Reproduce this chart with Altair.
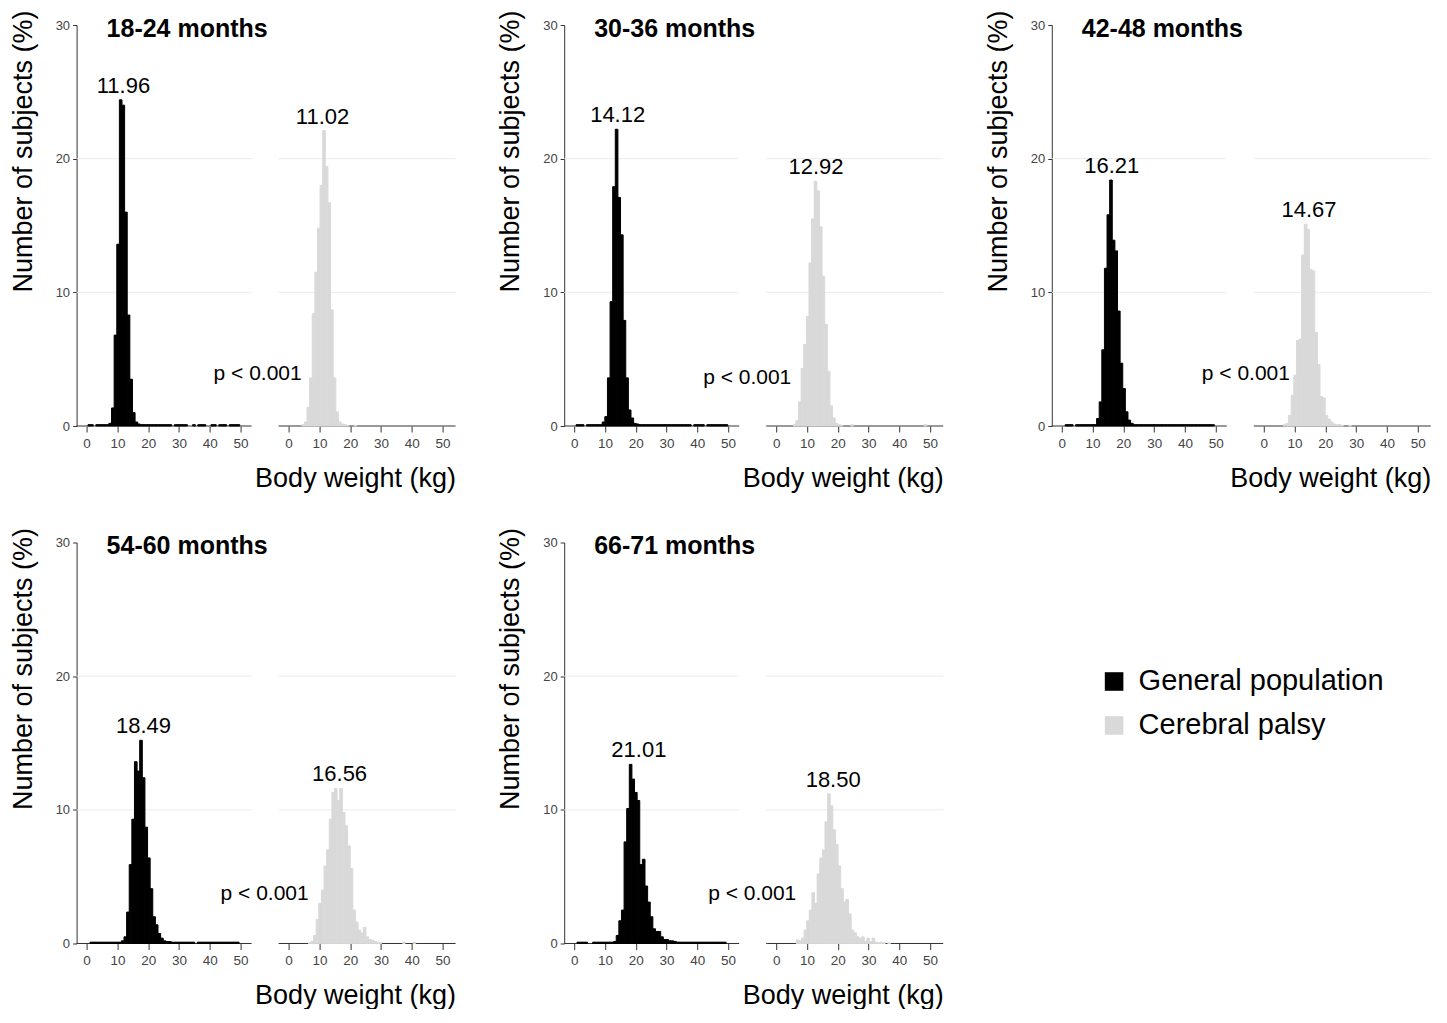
import altair as alt
import pandas as pd

FONT = "Liberation Sans"

AGES = ["18-24 months", "30-36 months", "42-48 months", "54-60 months", "66-71 months"]
GROUPS = ["General population", "Cerebral palsy"]
COLORS = ["#000000", "#d9d9d9"]
P_VALUES = ["p < 0.001", "p < 0.001", "p < 0.001", "p < 0.001", "p < 0.001"]

GP_MEAN = [11.96, 14.12, 16.21, 18.49, 21.01]
CP_MEAN = [11.02, 12.92, 14.67, 16.56, 18.50]

# histogram bin width (kg) and the left edge of the first bin of each histogram
BIN_WIDTH = 0.85
GP_OFFSET = [0.45, 0.60, 0.25, 0.25, 0.05]
CP_OFFSET = [0.03, 0.45, 0.40, 0.46, 0.55]

# percentage of subjects per bin
GP_18_24 = [0.1, 0.1, 0, 0.1, 0.1, 0.1, 0.1, 0.1, 0.2,
            1.35, 6.8, 13.6, 24.4, 24.0, 16.0, 8.3, 3.5, 1.0, 0.3, 0.15,
            0.1, 0.1, 0.1, 0.1, 0.1, 0.1, 0.1, 0.1, 0.1, 0.1, 0.1, 0.1, 0, 0.1, 0.1, 0.1, 0.1, 0.1, 0, 0,
            0.1, 0, 0.1, 0.1, 0.1, 0, 0, 0.1, 0.1, 0, 0.1, 0.1, 0.1, 0, 0.1, 0.1, 0.1, 0.1, 0]
CP_18_24 = [0, 0, 0, 0, 0, 0.1,
            0.3, 1.4, 3.6, 8.4, 11.5, 14.8, 18.0, 22.1, 19.4, 16.7, 8.7, 3.6, 1.05, 0.3,
            0.15, 0.1, 0.05, 0, 0, 0.05]
GP_30_36 = [0.1, 0.1, 0.1, 0, 0.1, 0.1, 0.1, 0.1, 0.1, 0.1, 0.3,
            0.7, 3.6, 9.3, 17.9, 22.2, 17.1, 14.3, 7.9, 3.6, 1.2, 0.6, 0.2,
            0.15, 0.1, 0.1, 0.1, 0.1, 0.1, 0.1, 0.1, 0.1, 0.1, 0.1, 0.1, 0.1, 0.1, 0.1, 0.1, 0.1, 0.1,
            0.1, 0.1, 0.1, 0, 0.1, 0.1, 0.1, 0.1, 0, 0.1, 0.1, 0.1, 0.1, 0.1, 0.1, 0.1, 0.1, 0]
CP_30_36 = [0, 0, 0, 0, 0, 0, 0.1,
            0.4, 1.8, 4.3, 6.1, 8.2, 12.2, 15.5, 18.3, 17.6, 14.9, 11.2, 7.6, 4.1, 1.5, 0.6, 0.2,
            0.1, 0.05, 0, 0, 0, 0.1, 0, 0, 0, 0, 0, 0, 0, 0, 0, 0, 0, 0, 0, 0, 0, 0, 0, 0, 0, 0,
            0, 0, 0, 0, 0, 0, 0, 0.1]
GP_42_48 = [0, 0.1, 0.1, 0.1, 0, 0.1, 0.1, 0.1, 0.1, 0.1, 0.1, 0.1, 0.1,
            0.56, 1.8, 5.7, 11.8, 15.8, 18.4, 13.9, 13.1, 8.6, 4.7, 2.8, 1.06, 0.44, 0.2,
            0.1, 0.1, 0.1, 0.1, 0.1, 0.1, 0.1, 0.1, 0.1, 0.1, 0.1, 0.1, 0.1, 0.1, 0.1, 0.1,
            0.1, 0.1, 0.1, 0.1, 0.1, 0.1, 0.1, 0.1, 0.1, 0.1, 0.1, 0.1, 0.1, 0.1, 0.1, 0]
CP_42_48 = [0, 0, 0, 0, 0, 0, 0, 0.1,
            0.2, 0.8, 2.3, 3.8, 6.4, 6.5, 12.8, 15.1, 14.7, 11.7, 11.6, 7.0, 4.6, 2.2, 2.1, 0.8,
            0.5, 0.3, 0.15, 0.1, 0.1,
            0.05, 0, 0, 0.05]
GP_54_60 = [0, 0.1, 0.1, 0.1, 0.1, 0.1, 0.1, 0.1, 0.1, 0.1, 0.1, 0.1, 0.1, 0.2,
            0.5, 2.35, 5.9, 9.3, 13.6, 12.9, 15.2, 12.4, 8.7, 6.4, 4.1, 2.0, 1.4, 0.75, 0.4, 0.2,
            0.15, 0.15, 0.1,
            0.1, 0.1, 0.1, 0.1, 0.1, 0.1, 0.1, 0.1, 0, 0.1, 0.1, 0.1, 0.1, 0.1, 0.1, 0.1,
            0.1, 0.1, 0.1, 0.1, 0.1, 0.1, 0.1, 0.1, 0.1, 0]
CP_54_60 = [0, 0, 0, 0, 0, 0, 0, 0.05,
            0.15, 0.6, 1.8, 3.0, 4.0, 5.8, 7.0, 9.3, 11.3, 11.6, 10.7, 11.6, 9.8, 8.8, 7.3, 5.6,
            2.5, 1.6, 1.0, 0.8, 1.2, 0.5, 0.3, 0.25, 0.15, 0.1,
            0.05, 0, 0, 0, 0, 0, 0, 0, 0, 0.1, 0, 0, 0, 0.1]
GP_66_71 = [0, 0.1, 0.1, 0.1, 0.1, 0, 0, 0.1, 0.1, 0.1, 0.1, 0.1, 0.1, 0.1, 0.1,
            0.15, 0.6, 1.7, 2.5, 7.6, 10.1, 13.4, 12.3, 11.3, 10.7, 5.9, 6.3, 4.3, 3.1, 2.0,
            1.1, 0.9, 0.9, 0.5, 0.3, 0.3, 0.2, 0.2, 0.15, 0.1,
            0.1, 0.1, 0.1, 0.1, 0.1, 0.1, 0.1, 0.1, 0.1, 0.1, 0.1, 0.1, 0.1, 0.1, 0.1, 0.1,
            0.1, 0.1, 0]
CP_66_71 = [0, 0, 0, 0, 0, 0, 0,
            0.27, 0.2, 0.4, 1.0, 1.7, 2.5, 3.8, 3.0, 5.2, 6.4, 7.0, 9.1, 11.2, 10.3, 8.5, 7.4,
            5.8, 4.1, 3.1, 3.3, 2.2, 1.0, 0.8, 0.5, 0.4, 0.5, 0.15, 0.4, 0.15, 0.4,
            0.1, 0.05, 0.1, 0.05, 0, 0.05]

GP_HIST = [GP_18_24, GP_30_36, GP_42_48, GP_54_60, GP_66_71]
CP_HIST = [CP_18_24, CP_30_36, CP_42_48, CP_54_60, CP_66_71]

KG_TICKS = [0, 10, 20, 30, 40, 50]
GRID_Y = [10, 20]

# ---------------------------------------------------------------- layout constants
# each panel is one view: the general-population histogram on the left and the
# cerebral-palsy histogram on the right, shifted along the x scale by SHIFT kg
W, H = 379, 401
XDOM = [-3.25, 119.88]
SHIFT = 65.63
LEFT_END = 53.6                      # end of the left sub-plot (kg)
P_POS = [(137, 354), (139, 358), (150, 354), (144, 357), (144, 357)]   # px in a 407-px plot
PANEL_PITCH = 488
Y_EXT = 69.4
ROW_GAP = 117

# ---------------------------------------------------------------- tables
bar_rows, mean_rows = [], []
for i, age in enumerate(AGES):
    for g, (offs, hists, mvals) in enumerate(((GP_OFFSET, GP_HIST, GP_MEAN),
                                              (CP_OFFSET, CP_HIST, CP_MEAN))):
        sh = SHIFT * g
        vals = hists[i]
        for k, v in enumerate(vals):
            if v > 0:
                s = offs[i] + BIN_WIDTH * k
                bar_rows.append({"age": age, "group": GROUPS[g], "x0": s + sh,
                                 "x1": s + BIN_WIDTH + sh, "pct": v, "base": 0})
        mean_rows.append({"age": age, "group": GROUPS[g], "xm": mvals[i] + sh,
                          "peak": max(vals), "label": f"{mvals[i]:.2f}"})
bars = pd.DataFrame(bar_rows)
means = pd.DataFrame(mean_rows)

segments = pd.DataFrame([{"x0": XDOM[0], "x1": LEFT_END}, {"x0": XDOM[0] + SHIFT, "x1": XDOM[1]}])
grid = pd.DataFrame([{"x0": s["x0"], "x1": s["x1"], "y": y}
                     for s in segments.to_dict("records") for y in GRID_Y])
base = segments.assign(y=0)

# ---------------------------------------------------------------- axes / scales
XS = alt.Scale(domain=XDOM, nice=False, zero=False)
YS = alt.Scale(domain=[0, 30], nice=False)
tick_vals = KG_TICKS + [t + SHIFT for t in KG_TICKS]
XA = alt.Axis(values=tick_vals, domain=False, grid=False, tickSize=6, labelPadding=4,
              labelFontSize=13.5, labelColor="#444444", tickColor="#333333",
              labelFont=FONT, labelOverlap=False, labelFlush=False,
              labelExpr=f"format(datum.value > {SHIFT - 5} ? datum.value - {SHIFT} : datum.value, 'd')",
              title="Body weight (kg)", titleAnchor="end", titleFontSize=27,
              titlePadding=16, titleFont=FONT, titleColor="#000000", titleFontWeight="normal")
YA = alt.Axis(values=[0, 10, 20, 30], title="Number of subjects (%)",
              titleFontSize=27, titleFontWeight="normal", titleFont=FONT,
              titleColor="#000000", titlePadding=18, titleAnchor="end",
              titleAlign="right", titleY=-15,
              labelFontSize=13, labelColor="#444444", labelFont=FONT,
              tickSize=4, labelPadding=3, tickColor="#333333",
              domainColor="#333333", grid=False)

legend = alt.Legend(orient="none", legendX=1023, legendY=642, title=None,
                    symbolType="square", symbolSize=345, symbolStrokeWidth=0,
                    labelFontSize=29, labelFont=FONT, labelColor="#000000",
                    labelLimit=600, rowPadding=14, labelOffset=10)
gscale = alt.Scale(domain=GROUPS, range=COLORS)


def panel(i):
    age = AGES[i]
    gl = alt.Chart(grid).mark_rule(color="#ebebeb", strokeWidth=1).encode(
        x=alt.X("x0:Q", scale=XS, axis=XA), x2="x1:Q", y=alt.Y("y:Q", scale=YS, axis=YA))
    bl = alt.Chart(base).mark_rule(color="#333333", strokeWidth=1).encode(
        x=alt.X("x0:Q", scale=XS, axis=XA), x2="x1:Q", y=alt.Y("y:Q", scale=YS, axis=YA))
    hist = alt.Chart(bars[bars.age == age]).mark_rect(
        strokeWidth=1.0, strokeOpacity=1, fillOpacity=1, opacity=1).encode(
        x=alt.X("x0:Q", scale=XS, axis=XA), x2="x1:Q",
        y=alt.Y("pct:Q", scale=YS, axis=YA), y2="base:Q",
        color=alt.Color("group:N", scale=gscale, legend=legend),
        stroke=alt.Stroke("group:N", scale=gscale, legend=None))
    lab = alt.Chart(means[means.age == age]).mark_text(
        font=FONT, fontSize=22, dy=-14, baseline="middle", color="#000000").encode(
        x=alt.X("xm:Q", scale=XS, axis=XA), y=alt.Y("peak:Q", scale=YS, axis=YA), text="label:N")
    ttl = alt.Chart(pd.DataFrame({"t": [age]})).mark_text(
        font=FONT, fontSize=25, fontWeight="bold", align="left", baseline="middle",
        color="#000000").encode(x=alt.value(30), y=alt.value(4), text="t:N")
    pv = alt.Chart(pd.DataFrame({"t": [P_VALUES[i]]})).mark_text(
        font=FONT, fontSize=21, align="left", baseline="middle", color="#000000").encode(
        x=alt.value(P_POS[i][0]), y=alt.value(round(P_POS[i][1] * H / 407)), text="t:N")
    return alt.layer(gl, bl, hist, lab, ttl, pv).properties(width=W, height=H)


PANEL_SP = PANEL_PITCH - W - Y_EXT
row1 = alt.hconcat(panel(0), panel(1), panel(2), spacing=PANEL_SP)
row2 = alt.hconcat(panel(3), panel(4), spacing=PANEL_SP)

BOTTOM_EXT = 6 + 4 + 13.5 + 16 + 27
TOP_EXT = 15
chart = alt.vconcat(row1, row2, spacing=ROW_GAP - BOTTOM_EXT - TOP_EXT).properties(
    padding={"left": 0.6, "top": 2, "right": 0, "bottom": 0}
).configure_view(stroke=None).resolve_scale(color="shared", stroke="shared")

chart.save("out.html", embed_options={"renderer": "svg", "actions": False})
